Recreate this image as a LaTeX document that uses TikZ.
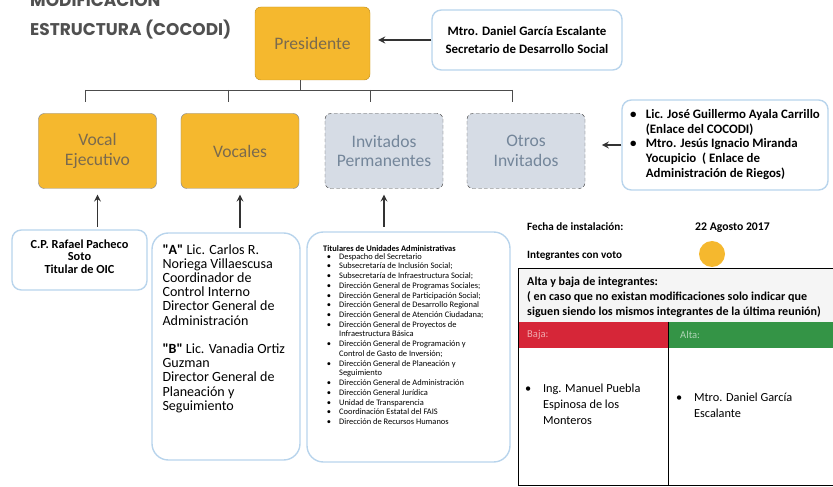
\documentclass[tikz,border=0pt]{standalone}
\usepackage{fontspec}
\setmainfont{Carlito}
\newfontfamily\titulofont{Poppins}
\usetikzlibrary{positioning}

\definecolor{amarillo}{RGB}{245,184,46}
\definecolor{grisazul}{RGB}{214,220,229}
\definecolor{bordeazul}{RGB}{184,212,236}
\definecolor{rojo}{RGB}{214,38,56}
\definecolor{verde}{RGB}{52,148,70}
\definecolor{rosa}{RGB}{240,170,175}
\definecolor{txtamarillo}{RGB}{122,106,78}
\definecolor{txtgris}{RGB}{116,134,154}
\definecolor{titulo}{RGB}{80,80,80}

\tikzset{
  cargo/.style={rounded corners=5pt, minimum width=3.54cm, minimum height=2.25cm,
    align=center, inner sep=2pt, font=\fontsize{15}{17}\selectfont},
  vocal/.style={cargo, fill=amarillo, draw=black!45, text=txtamarillo},
  invitado/.style={cargo, fill=grisazul, draw=black!70, densely dashed, text=txtgris},
  nota/.style={draw=bordeazul, line width=1.2pt, rounded corners=8pt, fill=white,
    align=center, font=\bfseries\fontsize{10}{12.8}\selectfont},
  lista/.style={draw=bordeazul, line width=1.2pt, rounded corners=14pt},
  flecha/.style={->, >=stealth, line width=1.6pt, draw=black!80},
  rama/.style={draw=black!70, line width=0.6pt},
  texto/.style={anchor=north west, inner sep=0, align=left}
}

\begin{document}
\begin{tikzpicture}[x=0.03cm, y=-0.03cm]
\useasboundingbox (0,0) rectangle (833,487);

% titulo
\node[anchor=base west, inner sep=0, text=titulo, font=\titulofont\bfseries\fontsize{14.5}{16}\selectfont] (tit1) at (30,7) {MODIFICACIÓN};
\node[anchor=base west, inner sep=0, text=titulo, font=\titulofont\bfseries\fontsize{14.5}{16}\selectfont] (tit2) at (30,36) {ESTRUCTURA (COCODI)};

% presidente
\node[vocal, minimum width=3.45cm, minimum height=2.19cm, draw=amarillo!80!black] (pres) at (312.5,43.5) {Presidente};
\node[nota, minimum width=5.7cm, minimum height=1.8cm, font=\bfseries\fontsize{11}{15}\selectfont] (secre) at (527,40) {Mtro. Daniel García Escalante\\Secretario de Desarrollo Social};
\draw[flecha, shorten >=0.24cm] (secre.west) -- (secre.west -| pres.east);

% fila de cargos
\node[vocal] (ejec) at (97.5,151) {Vocal\\Ejecutivo};
\node[vocal] (vocales) at (240,151) {Vocales};
\node[invitado] (perm) at (384,151) {Invitados\\Permanentes};
\node[invitado] (otros) at (526,151) {Otros\\Invitados};

\coordinate (barra) at (300,90);
\foreach \x/\n in {85/a,228/b,370/c,512/d} \coordinate (gota\n) at (\x,102);
\draw[rama] (pres.south -| barra) -- (barra);
\draw[rama] (gotaa |- barra) -- (gotad |- barra);
\foreach \n in {a,b,c,d} \draw[rama] (gota\n |- barra) -- (gota\n);

% otros invitados
\node[nota, minimum width=6.18cm, minimum height=2.7cm, align=left, inner sep=2pt, font=\bfseries\fontsize{11}{12.8}\selectfont] (enlaces) at (725,145) {%
  \begin{tabular}{@{}l@{\hspace{8pt}}l@{}}
  \textbullet & Lic. José Guillermo Ayala Carrillo\\
   & (Enlace del COCODI)\\
  \textbullet & Mtro. Jesús Ignacio Miranda\\
   & Yocupicio \ ( Enlace de\\
   & Administración de Riegos)
  \end{tabular}};
\draw[flecha, shorten >=0.5cm] (enlaces.west) -- (enlaces.west -| otros.east);

% titulares abajo
\node[nota, minimum width=4.05cm, minimum height=1.8cm] (rafael) at (79.5,260) {};
\node[inner sep=0, align=center, font=\bfseries\fontsize{10.5}{10.5}\selectfont] (rafaeltxt) at (79.5,256.5) {C.P. Rafael Pacheco\\Soto\\Titular de OIC};
\node[lista, minimum width=4.44cm, minimum height=6.81cm] (cargosA) at (226,346.5) {};
\node[lista, minimum width=6.09cm, minimum height=6.9cm] (titulares) at (408.5,347) {};

\draw[flecha, shorten <=2pt, shorten >=5pt] (ejec.south |- rafael.north) -- (ejec.south);
\draw[flecha, shorten <=4pt, shorten >=5pt] (vocales.south |- cargosA.north) -- (vocales.south);
\draw[flecha, shorten <=4pt, shorten >=5pt] (perm.south |- titulares.north) -- (perm.south);

\node[texto, font=\fontsize{12}{12.1}\selectfont] (textoA) at ([shift={(11,12)}]cargosA.north west) {%
  \textbf{\textquotedbl A\textquotedbl} Lic. Carlos R.\\
  Noriega Villaescusa\\
  Coordinador de\\
  Control Interno\\
  Director General de\\
  Administración\\[12.1pt]
  \textbf{\textquotedbl B\textquotedbl} Lic. Vanadia Ortiz\\
  Guzman\\
  Director General de\\
  Planeación y\\
  Seguimiento};

\node[texto, font=\fontsize{7.2}{8.3}\selectfont] (textoT) at (323,245) {%
  \textbf{Titulares de Unidades Administrativas}\\
  \begin{tabular}{@{\hspace{3pt}}l@{\hspace{7pt}}l@{}}
  \textbullet & Despacho del Secretario\\
  \textbullet & Subsecretaría de Inclusión Social;\\
  \textbullet & Subsecretaría de Infraestructura Social;\\
  \textbullet & Dirección General de Programas Sociales;\\
  \textbullet & Dirección General de Participación Social;\\
  \textbullet & Dirección General de Desarrollo Regional\\
  \textbullet & Dirección General de Atención Ciudadana;\\
  \textbullet & Dirección General de Proyectos de\\
   & Infraestructura Básica\\
  \textbullet & Dirección General de Programación y\\
   & Control de Gasto de Inversión;\\
  \textbullet & Dirección General de Planeación y\\
   & Seguimiento\\
  \textbullet & Dirección General de Administración\\
  \textbullet & Dirección General Jurídica\\
  \textbullet & Unidad de Transparencia\\
  \textbullet & Coordinación Estatal del FAIS\\
  \textbullet & Dirección de Recursos Humanos
  \end{tabular}};

% fecha e integrantes
\node[anchor=base west, inner sep=0, font=\bfseries\fontsize{9.5}{11}\selectfont] (fecha) at (527,231) {Fecha de instalación:};
\node[anchor=base west, inner sep=0, font=\bfseries\fontsize{10}{11}\selectfont] (dia) at (695,231) {22 Agosto 2017};
\node[anchor=base west, inner sep=0, font=\bfseries\fontsize{9.5}{11}\selectfont] (integrantes) at (527,259) {Integrantes con voto};
\node[circle, fill=amarillo, minimum size=0.78cm, inner sep=0] (voto) at (712,254) {};

% alta y baja
\fill[black!4] (518,268) rectangle (840,322);
\fill[rojo] (518,322) rectangle (668,348);
\fill[verde] (668,322) rectangle (840,348);
\draw[line width=0.8pt] (518,268) rectangle (840,485);
\draw[line width=0.8pt] (668,322) -- (668,485);
\node[texto, font=\bfseries\fontsize{10.3}{12.8}\selectfont] (altabaja) at (527,277) {%
  Alta y baja de integrantes:\\
  ( en caso que no existan modificaciones solo indicar que\\
  siguen siendo los mismos integrantes de la última reunión)};
\node[anchor=west, inner sep=0, text=rosa, font=\fontsize{9}{10}\selectfont] (bajalbl) at (527,335) {Baja:};
\node[anchor=west, inner sep=0, text=verde!40!white, font=\fontsize{9}{10}\selectfont] (altalbl) at (680,335) {Alta:};
\node[texto, font=\fontsize{10.5}{13.7}\selectfont] (bajanom) at (525,381) {%
  \begin{tabular}{@{}l@{\hspace{10pt}}l@{}}
  \textbullet & Ing. Manuel Puebla\\
   & Espinosa de los\\
   & Monteros
  \end{tabular}};
\node[texto, font=\fontsize{10.5}{13.7}\selectfont] (altanom) at (676,390) {%
  \begin{tabular}{@{}l@{\hspace{10pt}}l@{}}
  \textbullet & Mtro. Daniel García\\
   & Escalante
  \end{tabular}};
\end{tikzpicture}
\end{document}
